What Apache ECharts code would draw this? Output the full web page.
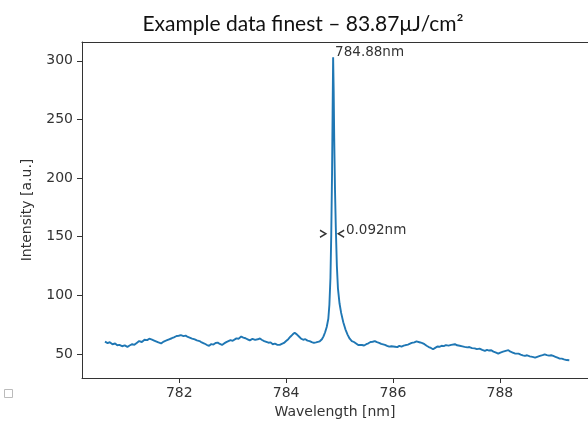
<!DOCTYPE html>
<html>
<head>
<meta charset="utf-8">
<script src="https://cdn.jsdelivr.net/npm/echarts@6/dist/echarts.min.js"></script>
<style>html,body{margin:0;padding:0;background:#fff}#c{width:588px;height:429px}</style>
</head>
<body>
<div id="c"></div>
<script>
const titleText = 'Example data finest \u2013 83.87\u03bcJ/cm\u00b2';
const xTicks = [782, 784, 786, 788];
const yTicks = [50, 100, 150, 200, 250, 300];
const wavelength = [
780.61,780.66,780.70,780.75,780.80,780.84,780.88,780.93,780.98,781.03,781.07,781.12,781.16,781.21,781.25,781.30,781.35,781.40,781.44,781.49,
781.53,781.56,781.61,781.66,781.71,781.76,781.81,781.86,781.90,781.95,781.99,782.03,782.08,782.12,782.16,782.19,782.24,782.29,782.33,782.38,
782.42,782.47,782.52,782.56,782.60,782.64,782.68,782.72,782.76,782.80,782.84,782.88,782.91,782.96,783.00,783.03,783.07,783.11,783.16,783.20,
783.24,783.28,783.32,783.37,783.42,783.47,783.51,783.55,783.59,783.63,783.67,783.71,783.75,783.79,783.83,783.88,783.92,783.96,784.00,784.04,
784.08,784.12,784.16,784.20,784.24,784.28,784.32,784.36,784.40,784.44,784.48,784.52,784.56,784.59,784.63,784.67,784.70,784.73,784.76,784.79,
784.81,784.83,784.845,784.86,784.87,784.88,784.89,784.90,784.915,784.93,784.95,784.97,785.00,785.03,785.07,785.11,785.15,785.19,785.23,785.27,
785.31,785.35,785.38,785.42,785.46,785.50,785.54,785.58,785.62,785.66,785.70,785.74,785.78,785.81,785.85,785.89,785.93,785.97,786.00,786.04,
786.08,786.12,786.16,786.20,786.24,786.28,786.31,786.35,786.40,786.44,786.47,786.51,786.55,786.59,786.63,786.67,786.71,786.75,786.79,786.83,
786.87,786.91,786.95,786.99,787.04,787.09,787.12,787.16,787.20,787.25,787.30,787.34,787.39,787.43,787.48,787.53,787.57,787.62,787.67,787.72,
787.76,787.80,787.84,787.88,787.93,787.97,788.01,788.06,788.11,788.16,788.20,788.24,788.28,788.31,788.35,788.39,788.43,788.47,788.51,788.56,
788.61,788.66,788.70,788.75,788.80,788.84,788.88,788.92,788.96,789.00,789.04,789.08,789.12,789.16,789.20,789.25,789.30
];
const intensity = [
60.5,59.2,60.0,58.3,58.9,57.4,57.7,56.6,57.3,56.0,57.2,58.3,57.8,59.6,61.0,60.2,62.1,61.8,63.0,62.2,
61.4,61.0,59.8,59.0,60.6,61.5,62.5,63.4,64.2,65.3,65.5,66.0,65.2,65.6,64.5,64.0,63.1,62.4,61.6,61.0,
59.8,58.9,57.6,57.0,58.4,58.0,59.3,59.7,58.5,57.7,59.0,60.1,60.5,61.8,61.2,62.5,63.3,63.0,64.8,64.0,
63.4,62.5,61.6,62.8,62.0,62.5,63.2,61.9,61.0,60.3,59.6,59.9,58.3,58.8,57.9,57.7,58.6,59.4,61.0,62.6,
64.7,66.5,68.0,66.7,64.9,63.0,62.1,62.6,61.4,61.0,60.1,59.4,59.9,59.7,60.8,62.5,65.0,68.5,73.0,80.0,
92.0,115.0,152.0,205.0,255.0,303.0,275.0,235.0,190.0,158.0,125.0,106.0,93.0,85.0,77.0,71.0,66.5,63.0,61.0,60.2,
58.9,57.6,57.0,57.6,57.2,58.3,59.1,60.2,60.4,61.0,60.1,59.5,58.6,58.3,57.8,56.9,56.2,56.6,55.4,56.1,
55.8,56.9,56.3,57.1,57.6,58.0,58.3,59.4,59.9,60.7,60.5,59.8,59.2,58.3,57.0,55.9,55.1,54.0,55.2,56.4,
56.1,57.0,56.7,57.5,57.1,57.7,58.0,58.3,57.4,57.0,56.5,56.0,55.6,55.9,55.0,54.8,54.1,54.5,53.4,52.6,
53.5,52.9,53.2,52.0,51.1,50.3,51.2,52.0,52.6,53.2,51.9,51.2,50.4,49.7,50.3,49.5,48.8,48.3,48.9,47.9,
47.5,46.8,47.6,48.4,49.0,49.7,49.0,48.6,48.9,48.3,47.6,46.8,46.0,46.0,45.4,44.8,44.6
];
const peakWl = 784.88, peakVal = 303;
const fwhmLabel = '0.092nm';
const peakLabel = '784.88nm';
const arrowLeft = [784.69, 152.5];
const arrowRight = [785.03, 152.5];
const fwhmTextPos = [785.12, 150];

const seriesData = wavelength.map((w, i) => [w, intensity[i]]);
const tickFont = {fontFamily: 'DejaVu Sans', fontSize: 14, color: '#333'};
const spine = {color: '#333', width: 1};

const chart = echarts.init(document.getElementById('c'), null, {renderer: 'canvas'});
chart.setOption({
  animation: false,
  backgroundColor: '#fff',
  title: {
    text: titleText, left: 298, top: 9, textAlign: 'center',
    textStyle: {fontFamily: 'Lato', fontSize: 21, fontWeight: 'normal', color: '#111'}
  },
  grid: {left: 82, top: 42, right: 0, bottom: 51, show: false},
  xAxis: [{
    type: 'value', min: 780.18, max: 789.65,
    name: 'Wavelength [nm]', nameLocation: 'middle', nameGap: 26,
    nameTextStyle: tickFont,
    axisLine: {show: true, lineStyle: spine},
    axisTick: {show: true, length: 5, lineStyle: {color: '#333'}, customValues: xTicks},
    axisLabel: Object.assign({margin: 8, customValues: xTicks, formatter: v => String(v)}, tickFont),
    splitLine: {show: false}
  }, {
    type: 'value', position: 'top', min: 780.18, max: 789.65,
    axisLine: {show: true, onZero: false, lineStyle: spine},
    axisTick: {show: false}, axisLabel: {show: false}, splitLine: {show: false}
  }],
  yAxis: {
    type: 'value', min: 29.5, max: 316,
    name: 'Intensity [a.u.]', nameLocation: 'middle', nameGap: 48, nameRotate: 90,
    nameTextStyle: tickFont,
    axisLine: {show: true, lineStyle: spine},
    axisTick: {show: true, length: 5, lineStyle: {color: '#333'}, customValues: yTicks},
    axisLabel: Object.assign({margin: 9, customValues: yTicks}, tickFont),
    splitLine: {show: false}
  },
  series: [{
    type: 'line',
    xAxisIndex: 0,
    data: seriesData,
    showSymbol: false,
    symbol: 'none',
    lineStyle: {color: '#1f77b4', width: 1.9},
    z: 3,
    markPoint: {
      silent: true,
      data: [
        {coord: [peakWl, peakVal], symbol: 'rect', symbolSize: 0.01,
         itemStyle: {color: 'rgba(0,0,0,0)'},
         label: Object.assign({show: true, formatter: peakLabel, position: [2, -12]}, tickFont, {fontSize: 13.5})},
        {coord: fwhmTextPos, symbol: 'rect', symbolSize: 0.01,
         itemStyle: {color: 'rgba(0,0,0,0)'},
         label: Object.assign({show: true, formatter: fwhmLabel, position: [0, -13]}, tickFont, {fontSize: 13.5})},
        {coord: arrowLeft, symbol: 'path://M0,0L5,4L0,8', symbolSize: [6, 7],
         itemStyle: {color: 'none', borderColor: '#333', borderWidth: 1.3}, label: {show: false}},
        {coord: arrowRight, symbol: 'path://M5,0L0,4L5,8', symbolSize: [6, 7],
         itemStyle: {color: 'none', borderColor: '#333', borderWidth: 1.3}, label: {show: false}}
      ]
    }
  }],
  graphic: [{
    type: 'rect', left: 4, top: 389, shape: {width: 8, height: 8},
    style: {fill: '#fff', stroke: '#bbb', lineWidth: 1}
  }]
});
</script>
</body>
</html>
